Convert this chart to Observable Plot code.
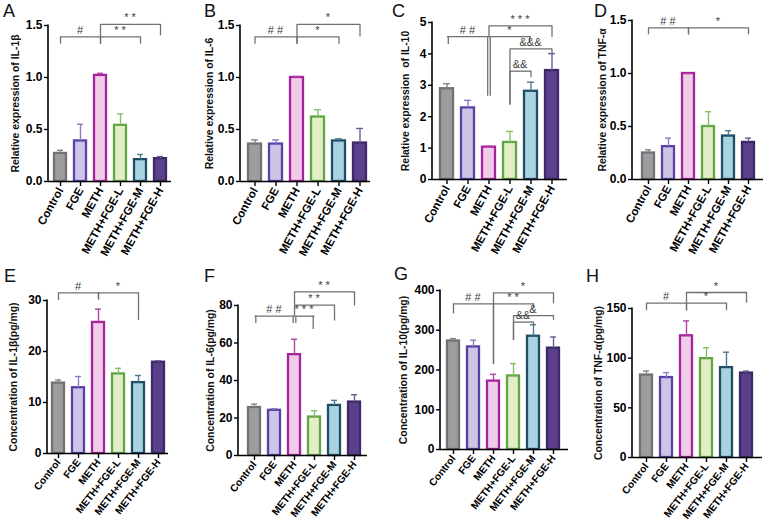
<!DOCTYPE html>
<html>
<head>
<meta charset="utf-8">
<script src="https://cdn.jsdelivr.net/npm/d3@7"></script>
<script src="https://cdn.jsdelivr.net/npm/@observablehq/plot@0.6"></script>
<style>
  body { margin: 0; background: #fff; }
  #chart { position: relative; width: 767px; height: 522px; background: #fff; overflow: hidden;
           font-family: "Liberation Sans", Arial, sans-serif; }
  #chart svg { position: absolute; left: 0; top: 0; }
  .tag { position: absolute; font-size: 18px; line-height: 18px; color: #111; }
</style>
</head>
<body>
<div id="chart"></div>
<script>
// Treatment groups, in plotting order
const groups = ["Control", "FGE", "METH", "METH+FGE-L", "METH+FGE-M", "METH+FGE-H"];
const barFill = ["#9d9da0", "#cec5e6", "#efcde8", "#e1eec6", "#a9d3e0", "#5c3f8b"];
const barStroke = ["#727276", "#5b40a8", "#a6239e", "#62a544", "#1f4e66", "#3c2a68"];
const errStroke = ["#85858a", "#8c7cc6", "#ad45a6", "#86bf69", "#4c7a90", "#6d5c98"];

// Relative mRNA expression (mean and mean + SD)
const il1bRel = [0.27, 0.39, 1.02, 0.54, 0.21, 0.22];
const il1bRelTop = [0.30, 0.55, 1.04, 0.65, 0.26, 0.24];
const il6Rel = [0.36, 0.36, 1.00, 0.62, 0.39, 0.37];
const il6RelTop = [0.40, 0.40, 1.01, 0.69, 0.41, 0.51];
const il10Rel = [2.89, 2.28, 1.03, 1.18, 2.81, 3.47];
const il10RelTop = [3.05, 2.52, 1.06, 1.53, 3.10, 4.01];
const tnfRel = [0.25, 0.31, 1.00, 0.50, 0.41, 0.35];
const tnfRelTop = [0.28, 0.39, 1.00, 0.64, 0.46, 0.39];

// Protein concentration, pg/mg (mean and mean + SD)
const il1bConc = [13.8, 12.9, 25.7, 15.6, 13.9, 17.9];
const il1bConcTop = [14.4, 15.1, 28.3, 16.7, 15.3, 18.2];
const il6Conc = [25.6, 24.1, 53.8, 20.5, 26.7, 28.5];
const il6ConcTop = [27.4, 25.0, 62.0, 23.9, 29.4, 32.4];
const il10Conc = [273, 258, 172, 185, 285, 255];
const il10ConcTop = [279, 275, 189, 216, 314, 283];
const tnfConc = [83, 80.5, 122.5, 99.5, 90.5, 85];
const tnfConcTop = [87, 85.5, 137.5, 110.5, 106, 87];

// Axis ticks
const ticksRel = [0, 0.5, 1.0, 1.5];
const ticksIl10Rel = [0, 1, 2, 3, 4, 5];
const ticksIl1bConc = [0, 10, 20, 30];
const ticksIl6Conc = [0, 20, 40, 60, 80];
const ticksIl10Conc = [0, 100, 200, 300, 400];
const ticksTnfConc = [0, 50, 100, 150];

// Significance comparisons:
// [from, to, mark, bracket level, from-leg end, to-leg end, shared leg drawn doubled]
const sigA = [["Control", "METH", "#", 1.39, 1.32, 1.32],
              ["METH", "METH+FGE-M", "* *", 1.39, 1.32, 1.32],
              ["METH", "METH+FGE-H", "* *", 1.51, 1.39, 1.40]];
const sigB = [["Control", "METH", "# #", 1.39, 1.32, 1.32],
              ["METH", "METH+FGE-M", "*", 1.39, 1.32, 1.32],
              ["METH", "METH+FGE-H", "*", 1.51, 1.39, 1.39]];
const sigC = [["Control", "METH", "# #", 4.55, 4.30, 2.65, true],
              ["METH", "METH+FGE-M", "*", 4.55, 2.65, 4.38, true],
              ["METH", "METH+FGE-H", "* * *", 4.89, 4.55, 4.53],
              ["METH+FGE-L", "METH+FGE-H", "&&&", 4.16, 2.37, 3.95],
              ["METH+FGE-L", "METH+FGE-M", "&&", 3.45, 2.37, 3.24]];
const sigD = [["Control", "METH", "# #", 1.43, 1.365, 1.365],
              ["METH", "METH+FGE-H", "*", 1.43, 1.365, 1.365]];
const sigE = [["Control", "METH", "#", 31.5, 30.0, 30.1],
              ["METH", "METH+FGE-M", "*", 31.5, 30.1, 26.1]];
const sigF = [["Control", "METH", "# #", 74.3, 70.4, 70.4, true],
              ["METH", "METH+FGE-L", "* * *", 74.3, 70.4, 67.2, true],
              ["METH", "METH+FGE-M", "* *", 80.2, 74.3, 71.7],
              ["METH", "METH+FGE-H", "* *", 87.3, 80.2, 79.7]];
const sigG = [["Control", "METH", "# #", 366.5, 341, 214],
              ["METH", "METH+FGE-M", "* *", 366.5, 214, 354],
              ["METH", "METH+FGE-H", "*", 394, 366.5, 366.5],
              ["METH+FGE-L", "METH+FGE-H", "&", 337, 274, 325],
              ["METH+FGE-L", "METH+FGE-M", "&&", 320.5, 274, 312]];
const sigH = [["Control", "METH", "#", 155.4, 147.7, 147.7],
              ["METH", "METH+FGE-M", "*", 155.4, 147.7, 147.7],
              ["METH", "METH+FGE-H", "*", 166.1, 155.4, 155.4]];

// Panel layout: frame box [left, right, top, bottom], first/last bar centres, y-label centre, tag corner
const panels = [
  {tag: "A", tagPos: [3, 2], label: "Relative expression of IL-1β", mean: il1bRel, top: il1bRelTop, sig: sigA,
   ticks: ticksRel, fmt: ".1f", box: [48, 171, 25, 181], centers: [58, 162], labelX: 15, row: 0},
  {tag: "B", tagPos: [204, 2], label: "Relative expression of IL-6", mean: il6Rel, top: il6RelTop, sig: sigB,
   ticks: ticksRel, fmt: ".1f", box: [240, 370, 25, 181], centers: [254, 360], labelX: 209, row: 0},
  {tag: "C", tagPos: [392, 2], label: "Relative expression  of IL-10", mean: il10Rel, top: il10RelTop, sig: sigC,
   ticks: ticksIl10Rel, fmt: "d", box: [432, 567, 22, 179], centers: [445, 553], labelX: 405, row: 0},
  {tag: "D", tagPos: [594, 2], label: "Relative expression of TNF-α", mean: tnfRel, top: tnfRelTop, sig: sigD,
   ticks: ticksRel, fmt: ".1f", box: [632, 763, 20, 179], centers: [647, 750], labelX: 602, row: 0},
  {tag: "E", tagPos: [4, 267], label: "Concentration of IL-1β(pg/mg)", mean: il1bConc, top: il1bConcTop, sig: sigE,
   ticks: ticksIl1bConc, fmt: "d", box: [47, 168, 300, 453], centers: [57, 160], labelX: 13, row: 1},
  {tag: "F", tagPos: [204, 267], label: "Concentration of IL-6(pg/mg)", mean: il6Conc, top: il6ConcTop, sig: sigF,
   ticks: ticksIl6Conc, fmt: "d", box: [238, 367, 305, 455], centers: [252, 357], labelX: 210, row: 1},
  {tag: "G", tagPos: [394, 265], label: "Concentration of IL-10(pg/mg)", mean: il10Conc, top: il10ConcTop, sig: sigG,
   ticks: ticksIl10Conc, fmt: "d", box: [440, 568, 290, 449], centers: [452, 555], labelX: 403, row: 1},
  {tag: "H", tagPos: [586, 267], label: "Concentration of TNF-α(pg/mg)", mean: tnfConc, top: tnfConcTop, sig: sigH,
   ticks: ticksTnfConc, fmt: "d", box: [632, 762, 308, 457], centers: [645, 748], labelX: 598, row: 1}
];

// Category-label styling per row of panels
const rowTickStyle = [{fontSize: 11.5, rotate: -61}, {fontSize: 10.2, rotate: -52}];

const W = 767, H = 522;
const BAND_PAD = 0.38;
const FONT = '"Liberation Sans", Arial, sans-serif';
const chart = document.getElementById("chart");

// Vertical axis line along the left edge of the frame
const yAxisLine = (...args) => {
  const dim = args.find(a => a && typeof a === "object" && "marginLeft" in a && "marginTop" in a);
  const x = dim.marginLeft;
  return d3.create("svg:line")
    .attr("x1", x).attr("x2", x)
    .attr("y1", dim.marginTop - 0.5)
    .attr("y2", dim.height - dim.marginBottom + 0.8)
    .attr("stroke", "#000").attr("stroke-width", 1.6)
    .node();
};

// Significance marks centred over each bracket
const sigLabels = (list) => (...args) => {
  const {x, y} = args[1];
  const half = x.bandwidth ? x.bandwidth() / 2 : 0;
  const g = d3.create("svg:g")
    .attr("font-size", 11).attr("font-weight", "normal")
    .attr("text-anchor", "middle").attr("font-family", FONT);
  for (const s of list) {
    g.append("text")
      .attr("fill", "#3d3d3d")
      .attr("x", (x(s.from) + x(s.to)) / 2 + half)
      .attr("y", y(s.y) - 2.5)
      .text(s.label);
  }
  return g.node();
};

for (const p of panels) {
  const rows = groups.map((g, i) => ({group: g, mean: p.mean[i], top: p.top[i],
                                       fill: barFill[i], stroke: barStroke[i], err: errStroke[i]}));
  const sig = p.sig.map(([from, to, label, y, lowFrom, lowTo, split = false]) =>
    ({from, to, label, y, lowFrom, lowTo, split}));
  const legs = sig.flatMap(s => [
    {x: s.from, y1: s.lowFrom, y2: s.y, shift: s.split ? 1 : 0},
    {x: s.to, y1: s.lowTo, y2: s.y, shift: s.split ? -1 : 0}
  ]);
  const legStyle = {x: "x", y1: "y1", y2: "y2", stroke: "#707070", strokeWidth: 1.3};

  const [left, right, top, bottom] = p.box;
  const step = (p.centers[1] - p.centers[0]) / (groups.length - 1);
  const halfBand = step * (1 - BAND_PAD) / 2;
  const fmt = d3.format(p.fmt);
  const ts = rowTickStyle[p.row];

  const svg = Plot.plot({
    width: W, height: H,
    marginLeft: left, marginRight: W - right, marginTop: top, marginBottom: H - bottom,
    style: {background: "transparent", overflow: "visible", fontFamily: FONT},
    x: {type: "band", domain: groups, range: [p.centers[0] - halfBand, p.centers[1] + halfBand],
        paddingInner: BAND_PAD, paddingOuter: 0},
    y: {domain: [0, p.ticks[p.ticks.length - 1]]},
    color: {type: "identity"},
    marks: [
      Plot.barY(rows, {x: "group", y: "mean", fill: "fill", stroke: "stroke", strokeWidth: 2.3}),
      Plot.ruleX(rows, {x: "group", y1: "mean", y2: "top", stroke: "err", strokeWidth: 1.4}),
      Plot.tickY(rows, {x: "group", y: "top", stroke: "err", strokeWidth: 1.4, inset: 3}),
      Plot.link(sig, {x1: "from", x2: "to", y1: "y", y2: "y", stroke: "#707070", strokeWidth: 1.3}),
      Plot.ruleX(legs.filter(d => d.shift === 0), legStyle),
      Plot.ruleX(legs.filter(d => d.shift > 0), {...legStyle, dx: 1.3}),
      Plot.ruleX(legs.filter(d => d.shift < 0), {...legStyle, dx: -1.3}),
      sigLabels(sig),
      Plot.ruleY([0], {stroke: "#000", strokeWidth: 1.6}),
      yAxisLine,
      Plot.axisX({tickRotate: ts.rotate, tickSize: 5, tickPadding: 2, fontSize: ts.fontSize,
                  fontWeight: "bold", strokeWidth: 1.4, label: null}),
      Plot.axisY({ticks: p.ticks, tickFormat: fmt, tickSize: 4, tickPadding: 2, fontSize: 12,
                  fontWeight: "bold", strokeWidth: 1.4, label: null}),
      // y-axis title, centred on the frame's height
      Plot.text([p.label], {frameAnchor: "left", textAnchor: "middle", lineAnchor: "middle",
                            rotate: -90, dx: p.labelX - left,
                            fontSize: 10.4, fontWeight: "bold", fill: "#111"})
    ]
  });
  chart.appendChild(svg);

  const tag = document.createElement("div");
  tag.className = "tag";
  tag.style.left = p.tagPos[0] + "px";
  tag.style.top = p.tagPos[1] + "px";
  tag.textContent = p.tag;
  chart.appendChild(tag);
}
</script>
</body>
</html>
